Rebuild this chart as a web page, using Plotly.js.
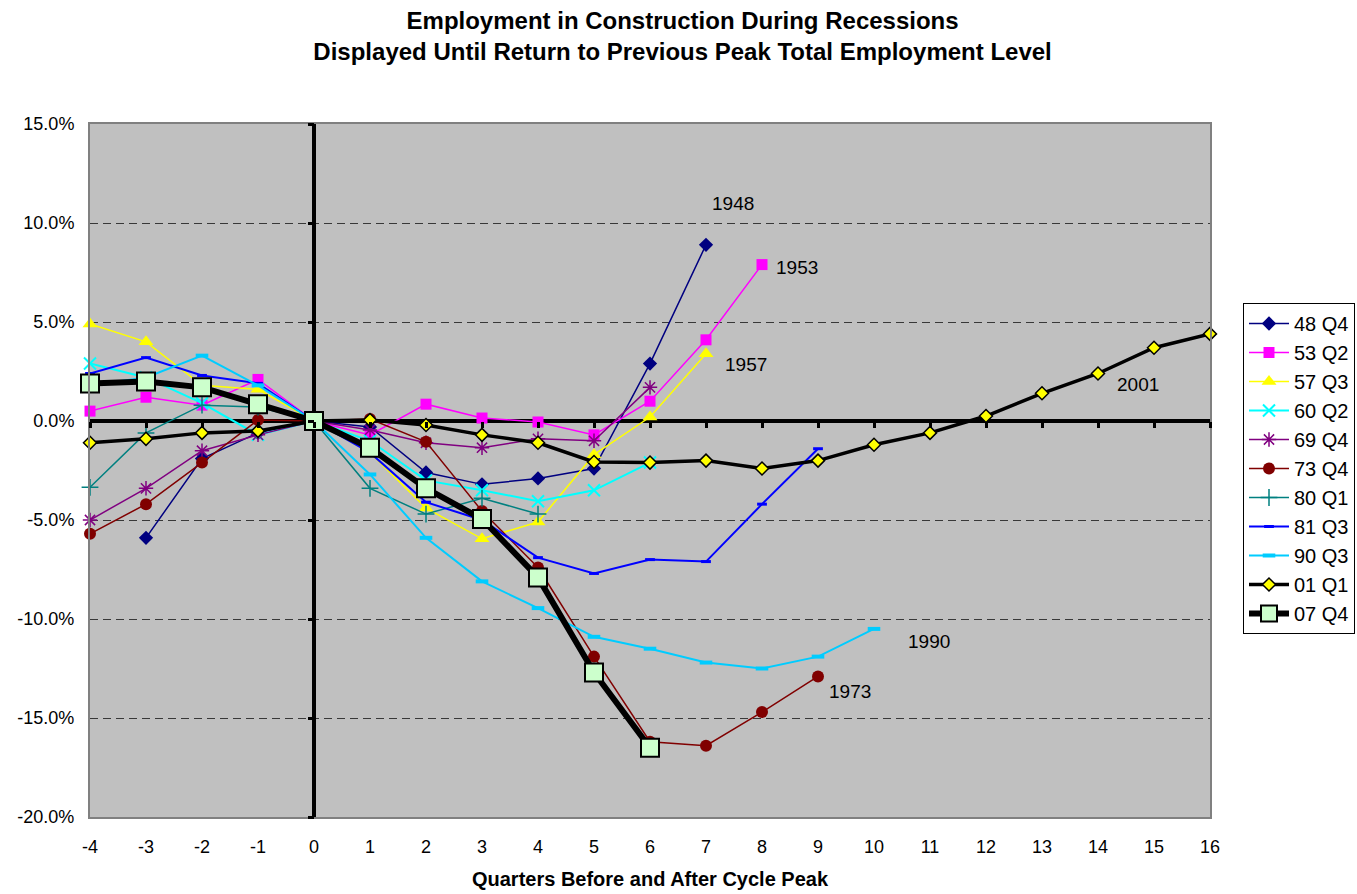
<!DOCTYPE html>
<html>
<head>
<meta charset="utf-8">
<script src="https://cdn.plot.ly/plotly-3.0.1.min.js"></script>
<style>html,body{margin:0;padding:0;background:#fff;overflow:hidden;}#chart{width:1357px;height:894px;}</style>
</head>
<body>
<div id="chart"></div>
<script>
// Quarters relative to cycle peak
const quarters = [-4,-3,-2,-1,0,1,2,3,4,5,6,7,8,9,10,11,12,13,14,15,16];

// Series values (% change from peak), each starting at its first quarter
const s48 = {name:'48 Q4', start:-3, values:[-5.9,-1.9,-0.6,0,-0.3,-2.6,-3.2,-2.9,-2.4,2.9,8.9]};
const s53 = {name:'53 Q2', start:-4, values:[0.5,1.2,0.8,2.1,0,-0.7,0.85,0.15,-0.05,-0.7,1.0,4.1,7.9]};
const s57 = {name:'57 Q3', start:-4, values:[4.9,4.0,1.8,1.6,0,-1.6,-4.4,-5.95,-5.1,-1.7,0.2,3.4]};
const s60 = {name:'60 Q2', start:-4, values:[2.9,2.2,0.9,-0.7,0,-1.0,-3.0,-3.5,-4.05,-3.5,-2.1]};
const s69 = {name:'69 Q4', start:-4, values:[-5.0,-3.4,-1.5,-0.7,0,-0.45,-1.1,-1.35,-0.9,-1.0,1.7]};
const s73 = {name:'73 Q4', start:-4, values:[-5.7,-4.2,-2.1,0.05,0,0.1,-1.05,-4.55,-7.4,-11.9,-16.2,-16.4,-14.7,-12.9]};
const s80 = {name:'80 Q1', start:-4, values:[-3.35,-0.6,0.8,0.7,0,-3.4,-4.7,-3.9,-4.7]};
const s81 = {name:'81 Q3', start:-4, values:[2.4,3.2,2.3,1.9,0,-1.6,-4.1,-5.0,-6.9,-7.7,-7.0,-7.1,-4.2,-1.4]};
const s90 = {name:'90 Q3', start:-4, values:[1.8,2.2,3.3,1.8,0,-2.7,-5.9,-8.1,-9.45,-10.9,-11.5,-12.2,-12.5,-11.9,-10.5]};
const s01 = {name:'01 Q1', start:-4, values:[-1.1,-0.9,-0.6,-0.5,0,0.05,-0.2,-0.7,-1.1,-2.07,-2.1,-2.0,-2.4,-2.0,-1.2,-0.6,0.25,1.4,2.4,3.7,4.4]};
const s07 = {name:'07 Q4', start:-4, values:[1.9,2.0,1.7,0.85,0,-1.35,-3.4,-4.95,-7.9,-12.7,-16.5]};

// Tick labels
const yTickVals = [-20,-15,-10,-5,0,5,10,15];
const yTickText = ['-20.0%','-15.0%','-10.0%','-5.0%','0.0%','5.0%','10.0%','15.0%'];
const xTickText = quarters.map(q => String(q));

// Year labels next to lines
const labelText = ['1948','1953','1957','2001','1990','1973'];
const labelX = [7.48, 8.62, 7.71, 14.71, 10.98, 9.57];
const labelY = [11.0, 7.73, 2.83, 1.82, -11.16, -13.64];

function xs(s){ return s.values.map((v,i)=>s.start+i); }

const styles = [
  [s48, {color:'#000080', width:1.5}, {symbol:'diamond', size:11, color:'#000080'}],
  [s53, {color:'#FF00FF', width:1.5}, {symbol:'square', size:11, color:'#FF00FF'}],
  [s57, {color:'#FFFF00', width:1.5}, {symbol:'triangle-up', size:13, color:'#FFFF00'}],
  [s60, {color:'#00FFFF', width:2}, {symbol:'x-thin-open', size:12, color:'#00FFFF', line:{width:2, color:'#00FFFF'}}],
  [s69, {color:'#800080', width:1.5}, {symbol:'asterisk-open', size:12, color:'#800080', line:{width:1.5, color:'#800080'}}],
  [s73, {color:'#800000', width:1.5}, {symbol:'circle', size:12, color:'#800000'}],
  [s80, {color:'#008080', width:1.5}, {symbol:'cross-thin-open', size:12, color:'#008080', line:{width:1.5, color:'#008080'}}],
  [s81, {color:'#0000FF', width:2}, {symbol:'line-ew-open', size:7, color:'#0000FF', line:{width:3, color:'#0000FF'}}],
  [s90, {color:'#00CCFF', width:2}, {symbol:'line-ew-open', size:9, color:'#00CCFF', line:{width:4, color:'#00CCFF'}}],
  [s01, {color:'#000000', width:3.5}, {symbol:'diamond', size:10, color:'#FFFF00', line:{width:1.5, color:'#000000'}}],
  [s07, {color:'#000000', width:6}, {symbol:'square', size:18, color:'#CCFFCC', line:{width:2, color:'#000000'}}]
];

const traces = styles.map(([s, line, marker]) => ({
  type:'scatter', mode:'lines+markers', name:s.name,
  x: xs(s), y: s.values, line: line, marker: marker, cliponaxis:false
}));
// helper traces so the tick-only overlay axes are drawn
traces.push({type:'scatter', x:[null], y:[null], xaxis:'x2', yaxis:'y', showlegend:false, hoverinfo:'skip'});
traces.push({type:'scatter', x:[null], y:[null], xaxis:'x', yaxis:'y2', showlegend:false, hoverinfo:'skip'});

const fontFam = 'Liberation Sans, Arial, sans-serif';

const layout = {
  width:1357, height:894,
  margin:{l:90, r:147, t:124, b:77},
  paper_bgcolor:'#FFFFFF', plot_bgcolor:'#C0C0C0',
  font:{family:fontFam, color:'#000000', size:18},
  showlegend:true,
  title:{
    text:'Employment in Construction During Recessions<br>Displayed Until Return to Previous Peak Total Employment Level',
    font:{family:fontFam, size:24, weight:700, color:'#000'},
    x:0.503, xref:'container', xanchor:'center', y:0.968, yref:'container', yanchor:'middle'
  },
  xaxis:{
    range:[-4,16], tickmode:'array', tickvals:quarters, ticktext:xTickText,
    showgrid:false, zeroline:true, zerolinecolor:'#000000', zerolinewidth:3.5,
    showline:true, linecolor:'#808080', linewidth:2, mirror:true,
    ticks:'', ticklabelstandoff:12, tickfont:{size:18},
    title:{text:'Quarters Before and After Cycle Peak', font:{size:20, weight:700}, standoff:16},
    automargin:false, fixedrange:true
  },
  yaxis:{
    range:[-20,15], tickmode:'array', tickvals:yTickVals, ticktext:yTickText,
    showgrid:true, gridcolor:'#383838', griddash:'8px,5px', gridwidth:1,
    zeroline:true, zerolinecolor:'#000000', zerolinewidth:3.5,
    showline:true, linecolor:'#808080', linewidth:2, mirror:true,
    ticks:'', ticklabelstandoff:10, tickfont:{size:18},
    automargin:false, fixedrange:true
  },
  xaxis2:{
    overlaying:'x', anchor:'free', position:20/35, side:'bottom',
    range:[-4,16], tickmode:'array', tickvals:quarters,
    ticks:'outside', ticklen:6, tickwidth:3, tickcolor:'#000',
    showticklabels:false, showgrid:false, zeroline:false, showline:false, fixedrange:true
  },
  yaxis2:{
    overlaying:'y', anchor:'free', position:4/20, side:'left',
    range:[-20,15], tickmode:'array', tickvals:yTickVals,
    ticks:'outside', ticklen:6, tickwidth:3, tickcolor:'#000',
    showticklabels:false, showgrid:false, zeroline:false, showline:false, fixedrange:true
  },
  legend:{
    xref:'container', yref:'container',
    x:1243/1357, xanchor:'left', y:1-303/894, yanchor:'top',
    bgcolor:'#FFFFFF', bordercolor:'#000000', borderwidth:1,
    font:{size:20, family:fontFam}, itemwidth:40, tracegroupgap:0
  },
  annotations: labelText.map((t,i)=>({
    text:t, x:labelX[i], y:labelY[i], xref:'x', yref:'y', showarrow:false,
    font:{size:19, family:fontFam, color:'#000'}
  }))
};

Plotly.newPlot('chart', traces, layout, {displayModeBar:false, staticPlot:true});
</script>
</body>
</html>
